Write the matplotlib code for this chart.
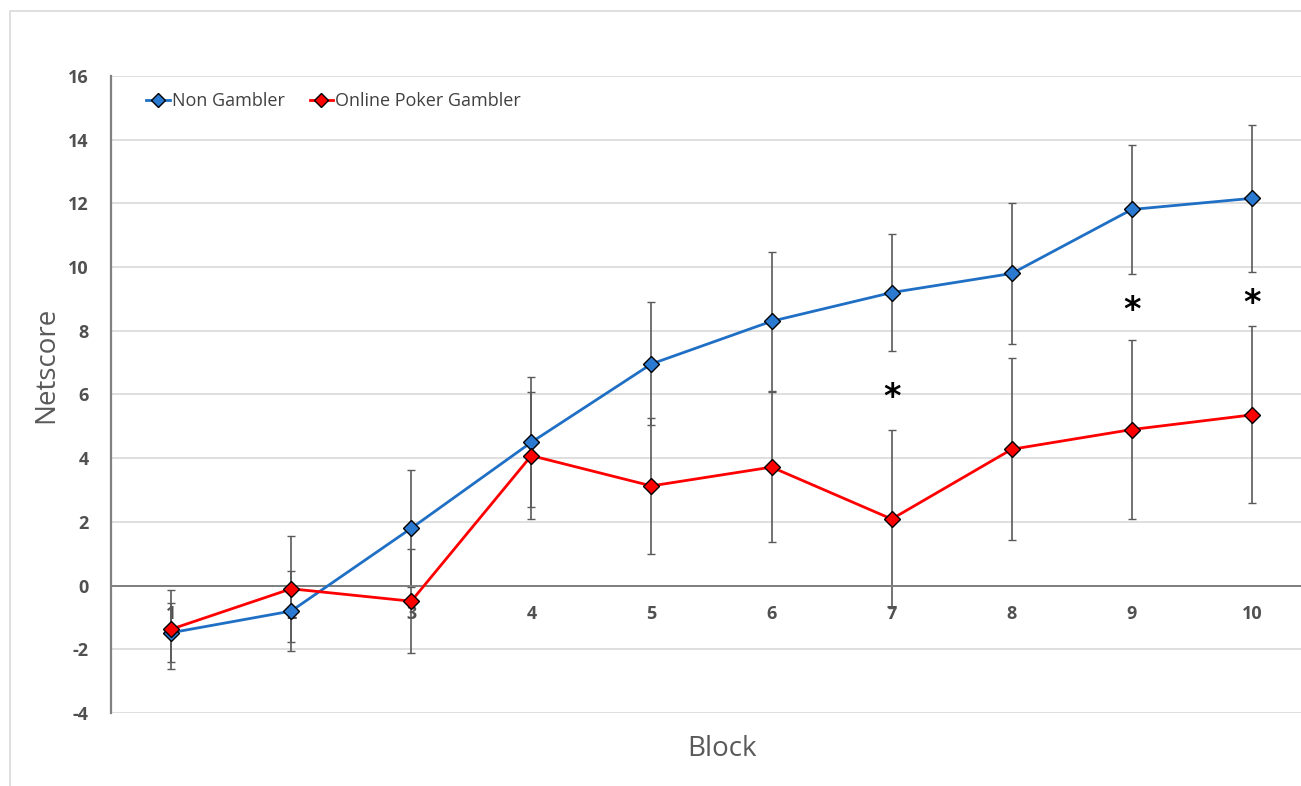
import numpy as np
import matplotlib
matplotlib.use('Agg')
import matplotlib.pyplot as plt
from matplotlib.patches import Rectangle

# values
blocks = [1, 2, 3, 4, 5, 6, 7, 8, 9, 10]
non_gambler = [-1.48, -0.8, 1.8, 4.5, 6.96, 8.3, 9.2, 9.8, 11.81, 12.16]
non_gambler_err = [0.93, 1.26, 1.83, 2.04, 1.93, 2.18, 1.83, 2.21, 2.03, 2.31]
poker = [-1.37, -0.1, -0.49, 4.08, 3.13, 3.72, 2.09, 4.28, 4.9, 5.36]
poker_err = [1.24, 1.66, 1.64, 2.0, 2.13, 2.35, 2.8, 2.86, 2.8, 2.78]
star_blocks = [7, 9, 10]
star_y = [5.9, 8.65, 8.85]

yticks = list(range(-4, 17, 2))

plt.rcParams['font.family'] = ['Open Sans', 'DejaVu Sans']
plt.rcParams['axes.unicode_minus'] = False

fig = plt.figure(figsize=(13.01, 7.86), dpi=100, facecolor='white')
fig.add_artist(Rectangle((10/1301, -0.5), 2.0, 0.986 + 0.5, transform=fig.transFigure,
                         fill=False, edgecolor='#d9d9d9', linewidth=1.2))
ax = fig.add_axes([111/1301, 1 - 713/786, 1 - 111/1301, (713 - 76)/786])

blue = '#1f6fc5'
red = '#ff0000'
series = [(non_gambler, non_gambler_err, blue, '#2a7ad2', 'Non Gambler'),
          (poker, poker_err, red, red, 'Online Poker Gambler')]
for vals, err, lc, fc, name in series:
    ax.errorbar(blocks, vals, yerr=err, fmt='none', ecolor='#5a5a5a',
                elinewidth=1.2, capsize=3, capthick=1, zorder=2)
    ax.plot(blocks, vals, color=lc, lw=2, marker='D', ms=8, mfc=fc,
            mec='black', mew=1, label=name, zorder=3)

for b, s in zip(star_blocks, star_y):
    ax.text(b, s, '*', ha='center', va='center', fontsize=24, color='black',
            fontweight='bold', family='DejaVu Sans')

ax.set_xlim(0.5, 0.5 + (1300 - 111) / 120)
ax.set_ylim(-4, 16)
ax.set_yticks(yticks)
ax.set_xticks(blocks)
ax.grid(axis='y', color='#d9d9d9', lw=1.2)
ax.set_axisbelow(True)

for sp in ['top', 'right']:
    ax.spines[sp].set_visible(False)
ax.spines['left'].set_color('#808080')
ax.spines['left'].set_linewidth(1.6)
ax.spines['bottom'].set_position(('data', 0))
ax.spines['bottom'].set_color('#7f7f7f')
ax.spines['bottom'].set_linewidth(1.4)
ax.tick_params(length=0, labelsize=13, labelcolor='#505050', pad=16)
ax.tick_params(axis='x', pad=14)
for lab in ax.get_xticklabels() + ax.get_yticklabels():
    lab.set_fontweight('bold')

ax.set_ylabel('Netscore', fontsize=20, color='#595959')
ax.yaxis.set_label_coords((60 - 111) / 1189, (713 - 365) / 637)
ax.set_xlabel('Block', fontsize=20, color='#595959')
ax.xaxis.set_label_coords((721 - 111) / 1189, -(735 - 713) / 637)

leg = ax.legend(loc='upper left', bbox_to_anchor=(0.016, 1.0), ncol=2, frameon=False,
                handlelength=1.3, handletextpad=0.1, columnspacing=1.4, fontsize=13)
for t in leg.get_texts():
    t.set_color('#404040')
for h in leg.legend_handles:
    h.set_markersize(7)

fig.savefig('out.png', dpi=100, facecolor='white')
